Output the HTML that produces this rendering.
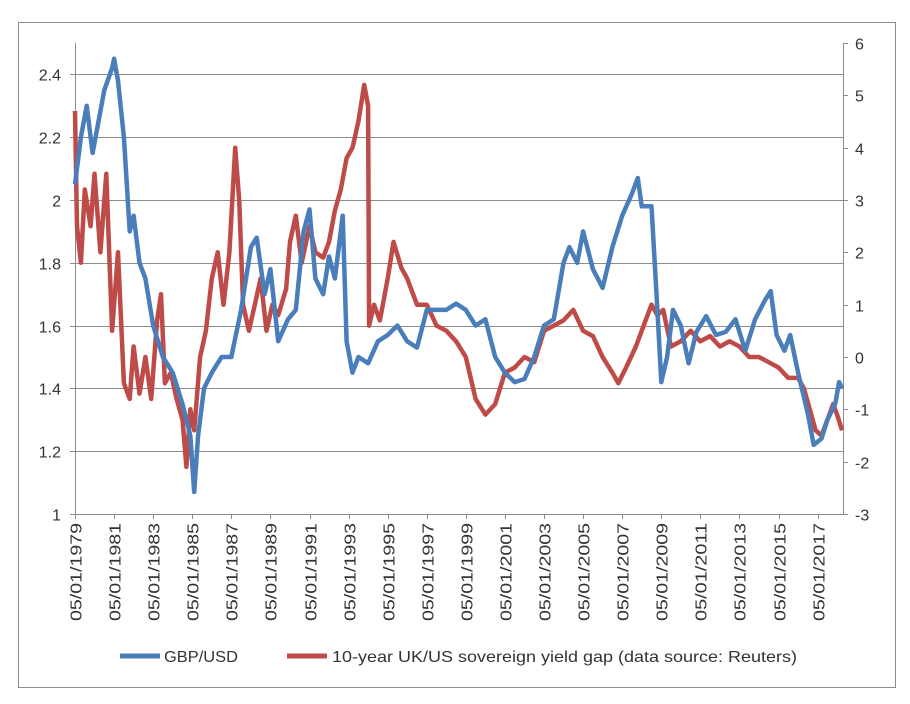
<!DOCTYPE html>
<html><head><meta charset="utf-8"><style>
html,body{margin:0;padding:0;background:#fff;}
svg{display:block;font-family:"Liberation Sans",Arial,sans-serif;}
</style></head><body>
<svg id="chart" width="910" height="704">
<rect x="18.5" y="22.5" width="877" height="665" fill="#fff" stroke="#8c8c8c"/>
<g id="grid"></g><g id="axes"></g><g id="series"></g>
<g>
<line x1="120" y1="656" x2="160" y2="656" stroke="#4a7ebb" stroke-width="5"/>
<text x="164" y="662" font-size="16" fill="#333" textLength="74" lengthAdjust="spacingAndGlyphs">GBP/USD</text>
<line x1="287" y1="656" x2="327" y2="656" stroke="#be4b48" stroke-width="5"/>
<text x="332" y="662" font-size="16" fill="#333" textLength="465" lengthAdjust="spacingAndGlyphs">10-year UK/US sovereign yield gap (data source: Reuters)</text>
</g>
</svg>
<script>
const leftTicks=[1,1.2,1.4,1.6,1.8,2,2.2,2.4];
const leftLabels=["1","1.2","1.4","1.6","1.8","2","2.2","2.4"];
const rightTicks=[-3,-2,-1,0,1,2,3,4,5,6];
const xTickYears=[1979,1981,1983,1985,1987,1989,1991,1993,1995,1997,1999,2001,2003,2005,2007,2009,2011,2013,2015,2017];
const gbpYears=[1979.0,1979.3,1979.6,1979.9,1980.2,1980.5,1980.9,1981.0,1981.2,1981.5,1981.8,1982.0,1982.3,1982.6,1983.0,1983.5,1984.0,1984.5,1984.9,1985.1,1985.3,1985.6,1986.0,1986.5,1987.0,1987.5,1988.0,1988.3,1988.7,1989.0,1989.4,1989.9,1990.3,1990.7,1991.0,1991.3,1991.7,1992.0,1992.3,1992.7,1992.9,1993.2,1993.5,1994.0,1994.5,1995.0,1995.5,1996.0,1996.5,1997.0,1997.5,1998.0,1998.5,1999.0,1999.5,2000.0,2000.5,2001.0,2001.5,2002.0,2002.5,2003.0,2003.5,2004.0,2004.3,2004.7,2005.0,2005.5,2006.0,2006.5,2007.0,2007.5,2007.8,2008.0,2008.5,2008.8,2009.0,2009.3,2009.6,2010.0,2010.4,2010.8,2011.3,2011.8,2012.3,2012.8,2013.3,2013.8,2014.3,2014.6,2014.9,2015.3,2015.6,2016.0,2016.5,2016.8,2017.2,2017.5,2017.9,2018.1,2018.25];
const gbpValues=[2.05,2.2,2.3,2.15,2.25,2.35,2.42,2.45,2.38,2.2,1.9,1.95,1.8,1.75,1.6,1.5,1.45,1.35,1.25,1.07,1.25,1.4,1.45,1.5,1.5,1.65,1.85,1.88,1.7,1.78,1.55,1.62,1.65,1.9,1.97,1.75,1.7,1.82,1.75,1.95,1.55,1.45,1.5,1.48,1.55,1.57,1.6,1.55,1.53,1.65,1.65,1.65,1.67,1.65,1.6,1.62,1.5,1.45,1.42,1.43,1.5,1.6,1.62,1.8,1.85,1.8,1.9,1.78,1.72,1.85,1.95,2.02,2.07,1.98,1.98,1.65,1.42,1.5,1.65,1.6,1.48,1.58,1.63,1.57,1.58,1.62,1.52,1.62,1.68,1.71,1.57,1.52,1.57,1.45,1.32,1.22,1.24,1.3,1.35,1.42,1.4];
const gapYears=[1979.0,1979.1,1979.3,1979.5,1979.8,1980.0,1980.3,1980.6,1980.9,1981.2,1981.5,1981.8,1982.0,1982.3,1982.6,1982.9,1983.2,1983.4,1983.6,1983.9,1984.2,1984.5,1984.7,1984.9,1985.1,1985.4,1985.7,1986.0,1986.3,1986.6,1986.9,1987.2,1987.4,1987.6,1987.9,1988.2,1988.5,1988.8,1989.1,1989.4,1989.8,1990.0,1990.3,1990.6,1991.0,1991.3,1991.7,1992.0,1992.3,1992.6,1992.9,1993.2,1993.5,1993.8,1994.0,1994.05,1994.3,1994.6,1995.0,1995.3,1995.7,1996.0,1996.5,1997.0,1997.5,1998.0,1998.5,1999.0,1999.5,2000.0,2000.5,2001.0,2001.5,2002.0,2002.5,2003.0,2003.5,2004.0,2004.5,2005.0,2005.5,2006.0,2006.5,2006.8,2007.2,2007.7,2008.2,2008.5,2008.8,2009.1,2009.5,2010.0,2010.5,2011.0,2011.5,2012.0,2012.5,2013.0,2013.5,2014.0,2014.5,2015.0,2015.5,2016.0,2016.3,2016.6,2016.9,2017.2,2017.5,2017.8,2018.0,2018.25];
const gapValues=[4.7,2.5,1.8,3.2,2.5,3.5,2.0,3.5,0.5,2.0,-0.5,-0.8,0.2,-0.7,0,-0.8,0.7,1.2,-0.5,-0.3,-0.8,-1.2,-2.1,-1.0,-1.4,0.0,0.5,1.5,2.0,1.0,2.0,4.0,3.0,1.0,0.5,1.0,1.5,0.5,1.0,0.8,1.3,2.2,2.7,1.8,2.5,2.0,1.9,2.2,2.8,3.2,3.8,4.0,4.5,5.2,4.8,0.6,1.0,0.7,1.5,2.2,1.7,1.5,1.0,1.0,0.6,0.5,0.3,0.0,-0.8,-1.1,-0.9,-0.3,-0.2,0.0,-0.1,0.5,0.6,0.7,0.9,0.5,0.4,0.0,-0.3,-0.5,-0.2,0.2,0.7,1.0,0.8,0.9,0.2,0.3,0.5,0.3,0.4,0.2,0.3,0.2,0.0,0.0,-0.1,-0.2,-0.4,-0.4,-0.6,-1.0,-1.4,-1.5,-1.2,-0.9,-1.1,-1.4];

const X0=75,X1=843,YR0=1979,YR1=2018.3,YT=43,YB=514;
const xs=y=>X0+(y-YR0)/(YR1-YR0)*(X1-X0);
const yl=v=>YB-(v-1)/(2.5-1)*(YB-YT);
const yr=v=>YB-(v+3)/9*(YB-YT);
const NS="http://www.w3.org/2000/svg";
function mk(tag,attrs,parent,txt){const e=document.createElementNS(NS,tag);for(const k in attrs)e.setAttribute(k,attrs[k]);if(txt!==undefined)e.textContent=txt;parent.appendChild(e);return e;}
const grid=document.getElementById('grid'),axes=document.getElementById('axes'),series=document.getElementById('series');
leftTicks.forEach((v,i)=>{
  const y=Math.round(yl(v))+0.5;
  if(i>0){const g=mk('line',{x1:X0,x2:X1,y1:y,y2:y,stroke:'#8c8c8c','stroke-width':1},grid);
  
  }
  mk('line',{x1:X0-5,x2:X0,y1:y,y2:y,stroke:'#8c8c8c'},axes);
  const t=mk('text',{x:X0-14,y:y+6,'text-anchor':'end','font-size':16,fill:'#333'},axes,leftLabels[i]);
  
  
});
rightTicks.forEach(v=>{
  const y=Math.round(yr(v))+0.5;
  mk('line',{x1:X1,x2:X1+5,y1:y,y2:y,stroke:'#8c8c8c'},axes);
  const t=mk('text',{x:X1+12,y:y+6,'font-size':16,fill:'#333'},axes,String(v));
  
  
});
mk('line',{x1:X0+0.5,x2:X0+0.5,y1:YT,y2:YB,stroke:'#8c8c8c'},axes);
mk('line',{x1:X1+0.5,x2:X1+0.5,y1:YT,y2:YB,stroke:'#8c8c8c'},axes);
mk('line',{x1:X0,x2:X1,y1:YB+0.5,y2:YB+0.5,stroke:'#8c8c8c'},axes);
xTickYears.forEach(yv=>{
  const x=Math.round(xs(yv))+0.5;
  mk('line',{x1:x,x2:x,y1:YB,y2:YB+5,stroke:'#8c8c8c'},axes);
  const t=mk('text',{transform:`translate(${x+6},${YB+9}) rotate(-90)`,'text-anchor':'end','font-size':16,fill:'#333',textLength:98,lengthAdjust:'spacingAndGlyphs'},axes,'05/01/'+yv);
  
  
});
const gp=mk('polyline',{points:gbpYears.map((y,i)=>xs(y).toFixed(1)+','+yl(gbpValues[i]).toFixed(1)).join(' '),fill:'none',stroke:'#4a7ebb','stroke-width':4.5,'stroke-linejoin':'round'},series);


const rp=mk('polyline',{points:gapYears.map((y,i)=>xs(y).toFixed(1)+','+yr(gapValues[i]).toFixed(1)).join(' '),fill:'none',stroke:'#be4b48','stroke-width':4.5,'stroke-linejoin':'round'},series);


series.insertBefore(rp,gp);
</script>
</body></html>
